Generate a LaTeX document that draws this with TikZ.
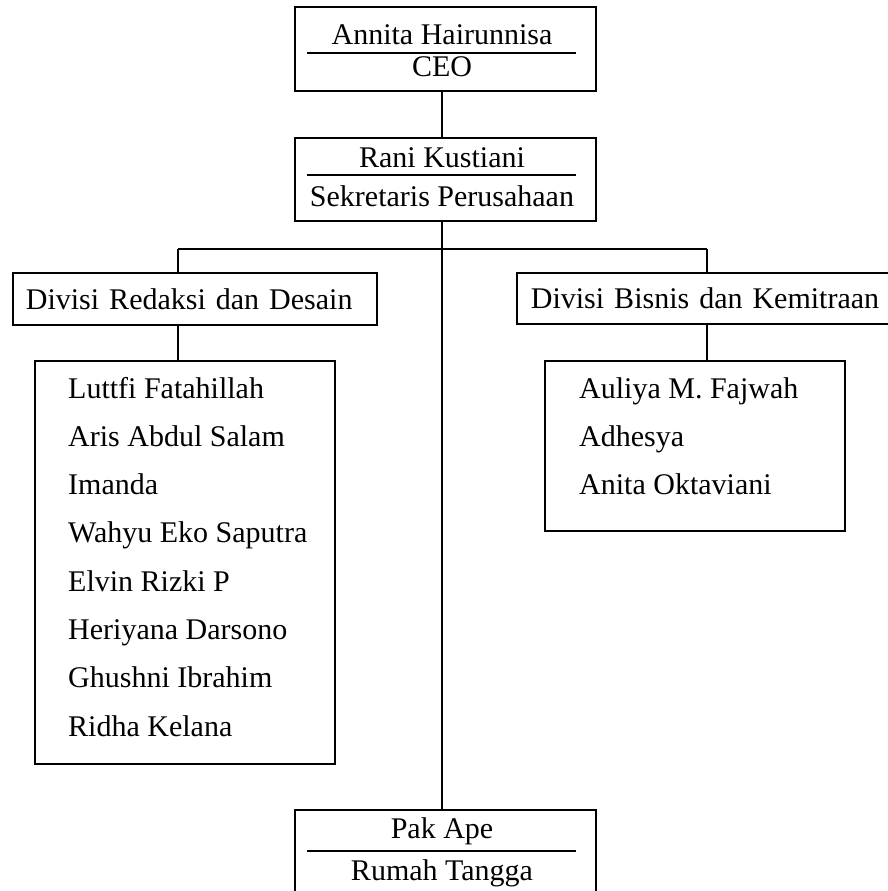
\documentclass[tikz,border=0pt]{standalone}
\usepackage{fontspec}
\setmainfont{Liberation Serif}
\usepackage{xcolor}
\usepackage{tikz}

\begin{document}
\begin{tikzpicture}[x=1pt, y=-1pt,
    kotak/.style={draw, line width=1.8pt, inner sep=0pt},
    teks/.style={font=\fontsize{30}{36}\selectfont, inner sep=0pt},
    hubung/.style={line width=1.3pt},
    garis/.style={line width=1.2pt}]
    \useasboundingbox (0,0) rectangle (888,891);

    % CEO
    \node[kotak, minimum width=301pt, minimum height=84pt] (ceo) at (445.5,49) {};
    \node[teks, anchor=base] (ceonama) at (442,45) {Annita Hairunnisa};
    \node[teks, anchor=base] (ceojabatan) at (442,77) {CEO};
    \draw[garis] (307,53) -- (576,53);

    % Sekretaris
    \node[kotak, minimum width=301pt, minimum height=83pt] (sek) at (445.5,179.5) {};
    \node[teks, anchor=base] (seknama) at (442,167) {Rani Kustiani};
    \node[teks, anchor=base] (sekjabatan) at (442,206) {Sekretaris Perusahaan};
    \draw[garis] (307,175) -- (576,175);

    % Rumah Tangga
    \node[kotak, minimum width=301pt, minimum height=84pt] (rt) at (445.5,852) {};
    \node[teks, anchor=base] (rtnama) at (442,838) {Pak Ape};
    \node[teks, anchor=base] (rtjabatan) at (442,880) {Rumah Tangga};
    \draw[garis] (307,851) -- (576,851);

    % Divisi
    \node[kotak, teks, anchor=west, inner xsep=13pt, text width=338pt, align=left, minimum height=52pt] (redaksi) at (12,299) {\mbox{Divisi Redaksi dan Desain}};
    \node[kotak, teks, anchor=west, inner xsep=14pt, text width=346pt, align=left, minimum height=51pt] (bisnis) at (516,298.5) {\mbox{Divisi Bisnis dan Kemitraan}};

    % Anggota Divisi Redaksi dan Desain
    \node[kotak, minimum width=300pt, minimum height=403pt] (anggotakiri) at (185,562.5) {};
    \node[teks, anchor=base west] (luttfi) at (68,398) {Luttfi Fatahillah};
    \node[teks, anchor=base west] (aris) at (68,446.3) {Aris Abdul Salam};
    \node[teks, anchor=base west] (imanda) at (68,494.6) {Imanda};
    \node[teks, anchor=base west] (wahyu) at (68,542.9) {Wahyu Eko Saputra};
    \node[teks, anchor=base west] (elvin) at (68,591.2) {Elvin Rizki P};
    \node[teks, anchor=base west] (heriyana) at (68,639.5) {Heriyana Darsono};
    \node[teks, anchor=base west] (ghushni) at (68,687.8) {Ghushni Ibrahim};
    \node[teks, anchor=base west] (ridha) at (68,736.1) {Ridha Kelana};

    % Anggota Divisi Bisnis dan Kemitraan
    \node[kotak, minimum width=300pt, minimum height=170pt] (anggotakanan) at (695,446) {};
    \node[teks, anchor=base west] (auliya) at (579,398) {Auliya M. Fajwah};
    \node[teks, anchor=base west] (adhesya) at (579,446.3) {Adhesya};
    \node[teks, anchor=base west] (anita) at (579,494.6) {Anita Oktaviani};

    % Garis penghubung
    \coordinate (kiri) at (178,249);
    \coordinate (kanan) at (707,249);
    \draw[hubung] (ceonama |- ceo.south) -- (ceonama |- sek.north);
    \draw[hubung] (seknama |- sek.south) -- (seknama |- rt.north);
    \draw[hubung] (kiri) -- (kanan);
    \draw[hubung] (kiri) -- (kiri |- redaksi.north);
    \draw[hubung] (kiri |- redaksi.south) -- (kiri |- anggotakiri.north);
    \draw[hubung] (kanan) -- (kanan |- bisnis.north);
    \draw[hubung] (kanan |- bisnis.south) -- (kanan |- anggotakanan.north);

\end{tikzpicture}
\end{document}
